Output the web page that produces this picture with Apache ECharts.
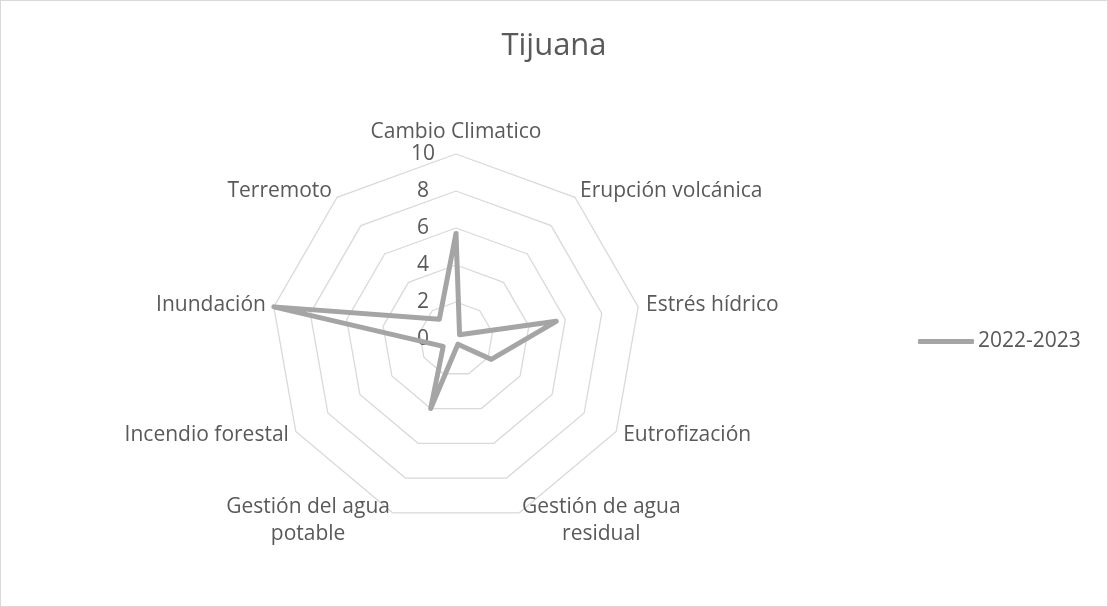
<!DOCTYPE html>
<html>
<head>
<meta charset="utf-8">
<script src="https://cdn.jsdelivr.net/npm/echarts@6/dist/echarts.min.js"></script>
<style>
  html, body { margin: 0; padding: 0; background: #fff; }
  #chart { width: 1108px; height: 607px; box-sizing: border-box; border: 1px solid #d9d9d9; }
</style>
</head>
<body>
<div id="chart"></div>
<script>
// categories in the order Excel draws them (clockwise from the top)
var categories = ['Cambio Climatico', 'Erupción volcánica', 'Estrés hídrico', 'Eutrofización',
  'Gestión de agua\nresidual', 'Gestión del agua\npotable', 'Incendio forestal', 'Inundación', 'Terremoto'];
var values2022 = [5.7, 0.3, 5.5, 2.2, 0.3, 4, 0.8, 10, 1.4];
var seriesName = '2022-2023';
var axisMax = 10;

// echarts radar goes counter-clockwise, so keep the first one and flip the rest
function flip(arr) {
  return [arr[0]].concat(arr.slice(1).reverse());
}

var indicators = flip(categories).map(function (c, i) {
  return { name: c, min: 0, max: axisMax, axisLabel: { show: i === 0 } };
});

var chart = echarts.init(document.getElementById('chart'));
var font = 'Open Sans';
var grey = '#595959';
var fs = 21;
chart.setOption({
  animation: false,
  title: {
    text: 'Tijuana',
    left: 'center',
    top: 25,
    textStyle: { fontFamily: font, fontSize: 31, fontWeight: 'normal', color: grey }
  },
  legend: {
    orient: 'vertical',
    left: 912,
    top: 325,
    itemWidth: 56,
    itemHeight: 5,
    icon: 'roundRect',
    textStyle: { fontFamily: font, fontSize: fs, color: grey, padding: [0, 0, 0, -1] },
    data: [seriesName]
  },
  radar: {
    center: [455, 338],
    radius: 185,
    startAngle: 90,
    splitNumber: 5,
    shape: 'polygon',
    indicator: indicators,
    axisName: {
      color: grey, fontFamily: font, fontSize: fs,
      // multi-line names are centred line by line, like Excel
      formatter: function (n) {
        return n.split('\n').map(function (s) { return '{c|' + s + '}'; }).join('\n');
      },
      rich: { c: { align: 'center', color: grey, fontFamily: font, fontSize: fs, lineHeight: 27 } }
    },
    nameGap: 8,
    axisLine: { show: false },
    axisTick: { show: false },
    axisLabel: {
      show: true, color: grey, fontFamily: font, fontSize: fs,
      margin: 33, align: 'center', padding: [5, 0, 0, 0]
    },
    splitLine: { lineStyle: { color: '#d9d9d9', width: 1.3 } },
    splitArea: { show: false }
  },
  series: [{
    type: 'radar',
    symbol: 'none',
    lineStyle: { color: '#a5a5a5', width: 5, join: 'round', cap: 'round' },
    itemStyle: { color: '#a5a5a5' },
    data: [{ name: seriesName, value: flip(values2022) }]
  }]
});
</script>
</body>
</html>
